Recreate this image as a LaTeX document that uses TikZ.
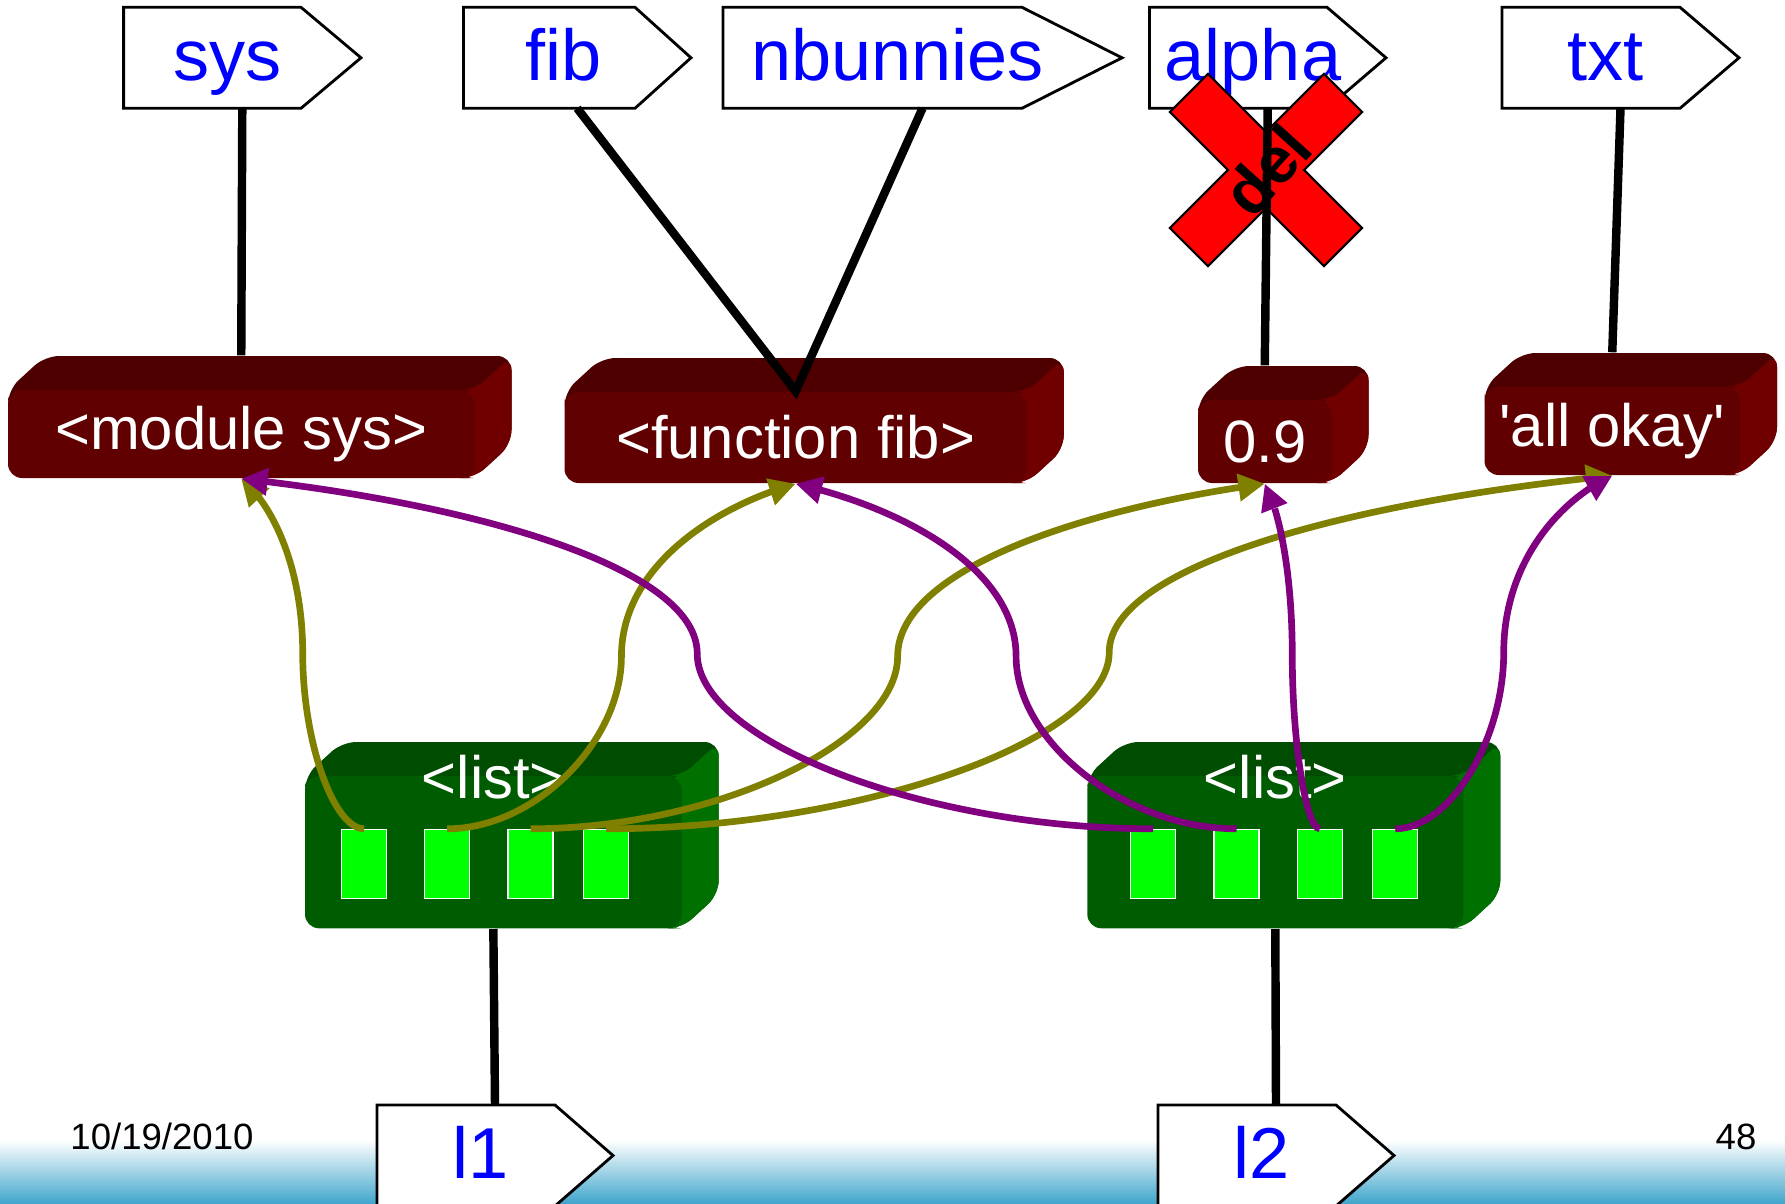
\documentclass[tikz,border=0pt]{standalone}
\usepackage{fontspec}
\setmainfont{Liberation Sans}
\newfontfamily\dritto{Liberation Sans} % senza apici tipografici
\usetikzlibrary{arrows.meta,bending,calc,positioning}

% Colori
\definecolor{blu}{RGB}{0,0,255}
\definecolor{oliva}{RGB}{128,128,0}
\definecolor{viola}{RGB}{128,0,128}
\definecolor{rossofronte}{RGB}{96,0,0}
\definecolor{rossosopra}{RGB}{78,0,0}
\definecolor{rossolato}{RGB}{112,0,0}
\definecolor{verdefronte}{RGB}{0,92,0}
\definecolor{verdesopra}{RGB}{0,76,0}
\definecolor{verdelato}{RGB}{0,112,0}
\definecolor{verdecella}{RGB}{0,255,0}
\definecolor{barra}{RGB}{66,166,204}

\tikzset{
  cartello/.style={draw=black, line width=0.8pt, fill=white},
  nome/.style={anchor=base, inner sep=0pt, text=blu, font=\fontsize{20.5}{24}\selectfont},
  faccia/.style={rounded corners=4pt, inner sep=0pt, text=white, font=\fontsize{17}{20}\selectfont},
  scritta/.style={anchor=base, inner sep=0pt, text=white, font=\fontsize{17}{20}\selectfont},
  cella/.style={draw=white, line width=0.4pt, fill=verdecella, minimum width=0.45cm, minimum height=0.69cm, inner sep=0pt},
  legame/.style={line width=2.4pt},
  olivo/.style={oliva, line width=1.9pt, -{Triangle[length=7.5pt,width=7.5pt,flex]}},
  porpora/.style={viola, line width=1.9pt, -{Triangle[length=7.5pt,width=7.5pt,flex]}},
  piede/.style={anchor=base, inner sep=0pt, font=\fontsize{10.4}{12}\selectfont},
}

% cartellino di una variabile: nome, x sinistra, y alto, corpo, punta, testo
\newcommand{\cartellino}[6]{%
  \draw[cartello] (#2,#3) -- ++(#4,0) -- ++(#5,50.5) -- ++(-#5,50.5) -- ++(-#4,0) -- cycle;
  \node[nome] (#1) at ({#2+(#4+#5/2)/2},{#3+73}) {#6};
  \coordinate (#1-n) at ({#2+(#4+#5)/2},#3);
  \coordinate (#1-s) at ({#2+(#4+#5)/2},{#3+101});
}

% oggetto in rilievo: nome, faccia frontale (x0,y0,x1,y1), tinta, testo
\newcommand{\oggetto}[7]{%
  % sagoma con la faccia superiore
  \fill[#6sopra, rounded corners=4pt] (#2,{#3+20}) -- (#2,#3) -- ++(37,-34) -- ({#4+37},{#3-34})
    -- ({#4+37},{#5-34}) -- (#4,#5) -- ({#4-20},#5) -- cycle;
  % faccia laterale
  \fill[#6lato, rounded corners=4pt] ({#4-15},#3) -- (#4,#3) -- ({#4+37},{#3-34}) -- ({#4+37},{#5-34})
    -- (#4,#5) -- ({#4-15},#5) -- cycle;
  % faccia frontale
  \node[faccia, fill=#6fronte, minimum width={(#4-#2)*0.01cm}, minimum height={(#5-#3)*0.01cm}]
    (#1) at ({(#2+#4)/2},{(#3+#5)/2}) {#7};
}

% riferimento da una cella a un oggetto (curva a S)
\newcommand{\riferimento}[3]{%
  \path (#2.north) coordinate (p) (#3.south) coordinate (q) ($(p)!0.5!(q)$) coordinate (m);
  \draw[#1] (p) .. controls ($(p)!0.25!(p -| q)$) and ($(m)!0.5!(m |- p)$) .. (m)
    .. controls ($(m)!0.5!(m |- q)$) and ($(q)!0.25!(q -| p)+(0,25)$) .. (q);
}

\begin{document}
\begin{tikzpicture}[x=0.01cm, y=-0.01cm]
  \useasboundingbox (0,0) rectangle (1785,1203);

  % --- Piede della pagina ---
  \shade[top color=white, bottom color=barra] (0,1140) rectangle (1785,1203);
  \node[piede] (data) at (162,1149) {10/19/2010};
  \node[piede] (pagina) at (1736,1149) {48};

  % --- Oggetti ---
  \oggetto{modulo}{8}{390}{474.5}{478}{rosso}{<module sys>}
  \oggetto{funzione}{564.5}{392}{1026.8}{483}{rosso}{<function fib>}
  \oggetto{valore}{1198}{400}{1331.5}{483}{rosso}{0.9}
  \oggetto{stringa}{1484.5}{387}{1740}{475}{rosso}{{\dritto 'all okay'}}
  \oggetto{lista1}{305}{776}{681.7}{928.3}{verde}{}
  \oggetto{lista2}{1087.3}{776}{1463.3}{928.3}{verde}{}
  \node[scritta] (testo1) at ($(lista1.north)+(0,23)$) {<list>};
  \node[scritta] (testo2) at ($(lista2.north)+(0,23)$) {<list>};

  % celle delle due liste
  \foreach \x [count=\i] in {364.2,447.2,530.5,606.2}
    \node[cella] (a\i) at (\x,864) {};
  \foreach \x [count=\i] in {1153.2,1236.5,1319.8,1395.2}
    \node[cella] (b\i) at (\x,864) {};

  % --- Nomi ---
  \cartellino{sys}{123.6}{7.3}{177.4}{60}{sys}
  \cartellino{fib}{463.4}{7.3}{171.6}{56}{fib}
  \cartellino{nbunnies}{723}{7.3}{299}{100}{nbunnies}
  \cartellino{alpha}{1149.4}{7.3}{177.6}{59}{alpha}
  \cartellino{txt}{1502}{7.3}{178}{59}{txt}
  \cartellino{l1}{377}{1105}{178}{58}{l1}
  \cartellino{l2}{1158}{1105}{178}{58}{l2}

  % croce rossa su alpha
  \begin{scope}[shift={(1266,170)}, rotate=45]
    \filldraw[fill=red, draw=black, line width=0.6pt]
      (109,27) -- (27,27) -- (27,109) -- (-27,109) -- (-27,27) -- (-109,27)
      -- (-109,-27) -- (-27,-27) -- (-27,-109) -- (27,-109) -- (27,-27) -- (109,-27) -- cycle;
  \end{scope}

  % --- Legami nome-oggetto ---
  \draw[legame] (sys-s) -- ($(modulo.north)+(0,-34)$);
  \draw[legame] (fib-s) -- (funzione.north) -- (nbunnies-s);
  \draw[legame] (alpha-s) -- ($(valore.north)+(0,-34)$);
  \draw[legame] (txt-s) -- ($(stringa.north)+(0,-34)$);
  \draw[legame] (lista1.south) -- (l1-n);
  \draw[legame] (lista2.south) -- (l2-n);

  \node[rotate=48, inner sep=0pt, font=\bfseries\fontsize{18.5}{21}\selectfont] (cancella) at (1267,170) {del};

  % --- Riferimenti delle celle ---
  \riferimento{olivo}{a1}{modulo}
  \riferimento{olivo}{a2}{funzione}
  \riferimento{olivo}{a3}{valore}
  \riferimento{olivo}{a4}{stringa}
  \riferimento{porpora}{b1}{modulo}
  \riferimento{porpora}{b2}{funzione}
  \riferimento{porpora}{b3}{valore}
  \riferimento{porpora}{b4}{stringa}
\end{tikzpicture}
\end{document}
